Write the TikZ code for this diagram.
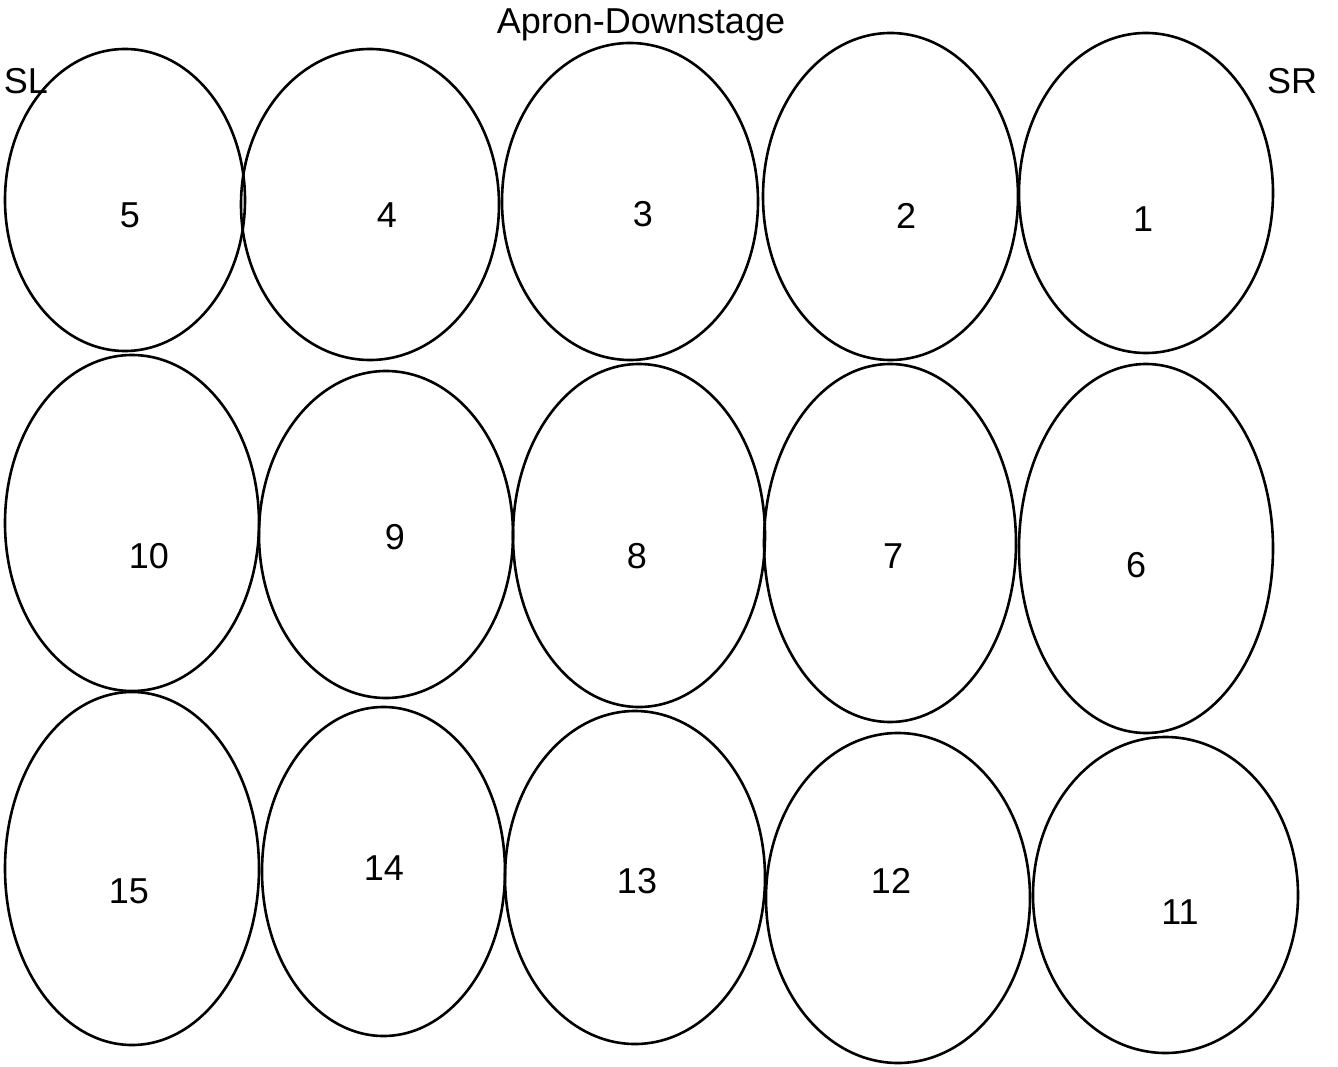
\documentclass[tikz,border=0pt]{standalone}
\usepackage{fontspec}
\setmainfont{Liberation Sans}
\usetikzlibrary{shapes.geometric}

\begin{document}
\begin{tikzpicture}[x=1pt,y=-1pt,line width=2.6pt,color=black,
    font=\fontsize{36}{42}\selectfont,
    zone/.style={draw,ellipse,inner sep=0pt},
    num/.style={anchor=base,inner sep=0pt}]
			\useasboundingbox (0,0) rectangle (1338,1067);
			% labels round the stage
			\node[num] (apron) at (641,34){Apron-Downstage};
			\node[num] (SL) at (26,94){SL};
			\node[num] (SR) at (1292,94){SR};
			% downstage row
			\node[zone,minimum width=240,minimum height=302] (z5) at (125,200){};
			\node[zone,minimum width=258,minimum height=311] (z4) at (370,204.5){};
			\node[zone,minimum width=256,minimum height=317] (z3) at (630,201.5){};
			\node[zone,minimum width=255,minimum height=327] (z2) at (890.5,196.5){};
			\node[zone,minimum width=254,minimum height=320] (z1) at (1146,193){};
			% middle row
			\node[zone,minimum width=254,minimum height=336] (z10) at (132,523){};
			\node[zone,minimum width=254,minimum height=327] (z9) at (386,534.5){};
			\node[zone,minimum width=252,minimum height=343] (z8) at (639,535.5){};
			\node[zone,minimum width=252,minimum height=358] (z7) at (890,543){};
			\node[zone,minimum width=254,minimum height=369] (z6) at (1146,548.5){};
			% upstage row
			\node[zone,minimum width=254,minimum height=353] (z15) at (132,868.5){};
			\node[zone,minimum width=243,minimum height=329] (z14) at (383.5,871.5){};
			\node[zone,minimum width=260,minimum height=333] (z13) at (635,877.5){};
			\node[zone,minimum width=264,minimum height=330] (z12) at (898,898){};
			\node[zone,minimum width=265,minimum height=316] (z11) at (1165.5,895){};
			% zone numbers
			\node[num] (5) at (130,228){5};
			\node[num] (4) at (387,228){4};
			\node[num] (3) at (643,227){3};
			\node[num] (2) at (906,229){2};
			\node[num] (1) at (1143,232){1};
			\node[num] (10) at (149,568){10};
			\node[num] (9) at (395,549){9};
			\node[num] (8) at (637,568){8};
			\node[num] (7) at (893,568){7};
			\node[num] (6) at (1136,577){6};
			\node[num] (15) at (129,903){15};
			\node[num] (14) at (384,880){14};
			\node[num] (13) at (637,893){13};
			\node[num] (12) at (891,893){12};
			\node[num] (11) at (1180,924){11};
		\end{tikzpicture}
\end{document}
